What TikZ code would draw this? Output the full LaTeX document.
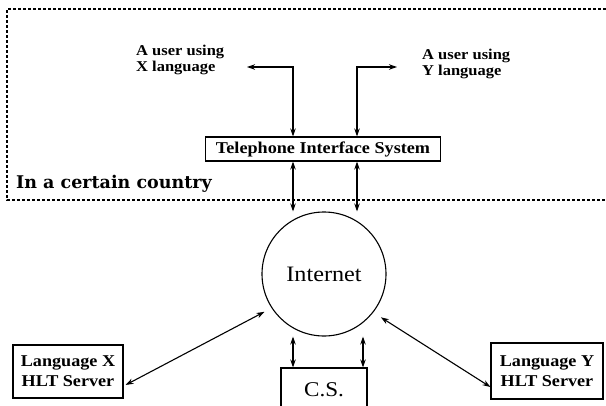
\documentclass[tikz,border=0pt]{standalone}
\usepackage{fontspec}
\setmainfont[FakeStretch=1.1]{Liberation Serif}
\newfontfamily\regionfont{DejaVu Serif}
\usetikzlibrary{positioning,arrows.meta,calc}

\tikzset{
    sys box/.style={draw, line width=1.1pt, inner sep=0pt, align=center,
        font=\bfseries\fontsize{16.5}{20}\selectfont},
    user label/.style={align=left, inner sep=0pt,
        font=\bfseries\fontsize{15}{16}\selectfont},
    link/.style={<->, line width=1.1pt},
    border/.style={line width=1.3pt, dash pattern=on 3pt off 2pt},
    region label/.style={inner sep=0pt, font=\regionfont\bfseries\fontsize{17.5}{20}\selectfont},
}

\begin{document}
\begin{tikzpicture}[x=1pt, y=-1pt, >={Stealth[length=8pt,width=5.5pt]}]
    \useasboundingbox (0,0) rectangle (606,405);

    % country border, open on the right
    \draw [border] (606,9) -- (7,9) -- (7,200) -- (606,200);
    \node [region label, anchor=base west] (country) at (16,188) {In a certain country};

    % draw nodes
    \node [sys box, minimum width=235, minimum height=24] (tis) at (323,149) {Telephone Interface System};
    \node [circle, draw, line width=1.1pt, inner sep=0pt, minimum size=124,
        font=\fontsize{22}{24}\selectfont] (inet) at (324,274) {Internet};
    \node [sys box, minimum width=86, minimum height=44,
        font=\fontsize{21}{24}\selectfont] (cs) at (324,390) {C.S.};
    \node [sys box, minimum width=110, minimum height=53] (hlt-X) at (68,371.5) {Language X\\HLT Server};
    \node [sys box, minimum width=112, minimum height=56] (hlt-Y) at (547,371) {Language Y\\HLT Server};

    % users
    \node [user label, anchor=west] (user-X) at (136,60) {A user using\\X language};
    \node [user label, anchor=west] (user-Y) at (422,64) {A user using\\Y language};

    \coordinate (corner-X) at (293,67);
    \coordinate (corner-Y) at (357,67);
    \coordinate (end-X) at (247,67);
    \coordinate (end-Y) at (397,67);
    \coordinate (cs-1) at (293,368);
    \coordinate (cs-2) at (363,368);

    % lines from users to telephone system
    \foreach \c in {X,Y}
        \draw [link] (end-\c) -- (corner-\c) -- (corner-\c |- tis.north);

    % lines from telephone system to internet
    \foreach \c in {X,Y}
        \draw [link] (corner-\c |- tis.south) -- (corner-\c |- inet.north);

    % lines from internet to C.S.
    \foreach \i in {1,2}
        \draw [link] (cs-\i |- inet.south) -- (cs-\i |- cs.north);

    % lines from servers to internet
    \draw [link, shorten >=8pt] ($(hlt-X.east)+(2,13.5)$) -- (inet.213);
    \draw [link, shorten >=9pt] ($(hlt-Y.west)+(0,16)$) -- (inet.-38);

\end{tikzpicture}
\end{document}
